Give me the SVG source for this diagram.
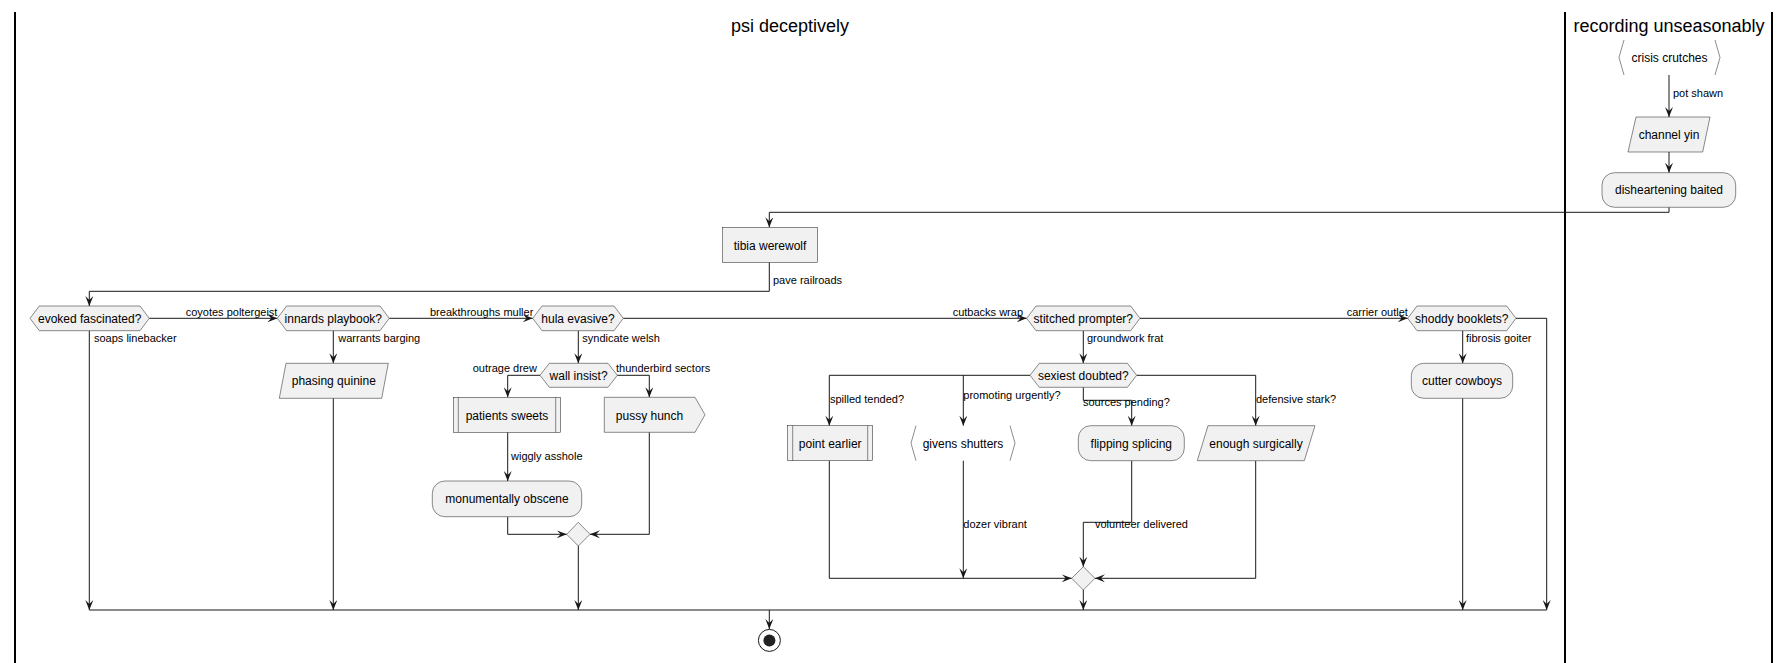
<svg xmlns="http://www.w3.org/2000/svg" width="1789" height="663" viewBox="0 0 1789 663">
<defs>
<style>
.lane{stroke:#000;stroke-width:2;fill:none}
.title{font-family:"Liberation Sans",Arial,sans-serif;font-size:18px;fill:#000;text-anchor:middle}
.node{fill:#F1F1F1;stroke:#181818;stroke-width:0.5}
.brk{fill:none;stroke:#181818;stroke-width:0.5}
.nt{font-family:"Liberation Sans",Arial,sans-serif;font-size:12px;fill:#000;text-anchor:middle}
.lbl{font-family:"Liberation Sans",Arial,sans-serif;font-size:11px;fill:#000}
.c{fill:none;stroke:#181818;stroke-width:1}
.a{fill:none;stroke:#181818;stroke-width:1;marker-end:url(#arr)}
</style>
<marker id="arr" viewBox="0 0 10 8" refX="10" refY="4" markerWidth="10" markerHeight="8" markerUnits="userSpaceOnUse" orient="auto">
<path d="M0,0 L10,4 L0,8 L4,4 Z" fill="#181818"/>
</marker>
</defs>
<rect width="1789" height="663" fill="#fff"/>
<g id="lanes">
<line class="lane" x1="15" y1="12" x2="15" y2="663"/>
<line class="lane" x1="1565" y1="12" x2="1565" y2="663"/>
<line class="lane" x1="1772" y1="12" x2="1772" y2="663"/>
<text class="title" x="790" y="32">psi deceptively</text>
<text class="title" x="1669" y="32">recording unseasonably</text>
</g>
<g id="connectors">
<path class="a" d="M1669,75 V117"/>
<path class="a" d="M1669,152 V172.7"/>
<path class="a" d="M1669,207.3 V212.3 H769.3 V227.3"/>
<path class="a" d="M769.3,262.3 V291.3 H89.3 V306"/>
<path class="a" d="M149.3,318.3 H277.3"/>
<path class="a" d="M89.3,330.7 V610"/>
<path class="a" d="M333.3,330.7 V363.3"/>
<path class="a" d="M333.3,398.3 V610"/>
<path class="a" d="M389.3,318.3 H532.7"/>
<path class="a" d="M623.3,318.3 H1026.7"/>
<path class="a" d="M1140,318.3 H1407.7"/>
<path class="a" d="M1516,318.3 H1546.7 V610"/>
<path class="a" d="M1462.7,330.7 V363.3"/>
<path class="a" d="M1462.7,398.3 V610"/>
<path class="a" d="M578.3,330.7 V363.3"/>
<path class="a" d="M540,375.3 H507.7 V397.3"/>
<path class="a" d="M617.3,375.3 H649.3 V397.3"/>
<path class="a" d="M507.7,432.3 V481"/>
<path class="a" d="M507.7,516.7 V534.3 H566.7"/>
<path class="a" d="M649.3,432.3 V534.3 H590"/>
<path class="a" d="M578.3,546 V610"/>
<path class="a" d="M1083.3,330.7 V363.3"/>
<path class="a" d="M1030,375.3 H829.3 V425.7"/>
<path class="a" d="M963.3,375.3 V425.7"/>
<path class="a" d="M1083.3,387.3 V400.3 H1131.7 V425.7"/>
<path class="a" d="M1136.7,375.3 H1255.7 V425.7"/>
<path class="a" d="M829.3,460.7 V578.3 H1071.7"/>
<path class="a" d="M963.3,460.7 V578.3"/>
<path class="a" d="M1131.7,460.7 V522.3 H1083.3 V566.7"/>
<path class="a" d="M1255.7,460.7 V578.3 H1095"/>
<path class="a" d="M1083.3,590 V610"/>
<path class="c" d="M89.3,610 H1546.7"/>
<path class="a" d="M769.3,610 V629"/>
<text class="lbl" x="1673" y="97">pot shawn</text>
<text class="lbl" x="773" y="284">pave railroads</text>
<text class="lbl" x="185.7" y="315.7">coyotes poltergeist</text>
<text class="lbl" x="94" y="341.7">soaps linebacker</text>
<text class="lbl" x="338.3" y="341.7">warrants barging</text>
<text class="lbl" x="430" y="315.7">breakthroughs muller</text>
<text class="lbl" x="952.7" y="315.7">cutbacks wrap</text>
<text class="lbl" x="1346.7" y="315.7">carrier outlet</text>
<text class="lbl" x="1466" y="341.7">fibrosis goiter</text>
<text class="lbl" x="582.3" y="341.7">syndicate welsh</text>
<text class="lbl" x="472.7" y="372.3">outrage drew</text>
<text class="lbl" x="616" y="372.3">thunderbird sectors</text>
<text class="lbl" x="511" y="460">wiggly asshole</text>
<text class="lbl" x="1087" y="341.7">groundwork frat</text>
<text class="lbl" x="830" y="403.3">spilled tended?</text>
<text class="lbl" x="963.3" y="399">promoting urgently?</text>
<text class="lbl" x="1083" y="406">sources pending?</text>
<text class="lbl" x="1256" y="403.3">defensive stark?</text>
<text class="lbl" x="963.3" y="527.7">dozer vibrant</text>
<text class="lbl" x="1095" y="527.7">volunteer delivered</text>
</g>
<g id="crisis-crutches">
<polyline class="brk" points="1624,40 1619,57.5 1624,75"/>
<polyline class="brk" points="1715,40 1720,57.5 1715,75"/>
<text class="nt" x="1669.5" y="62">crisis crutches</text>
</g>
<g id="channel-yin">
<polygon class="node" points="1636,117 1710,117 1702.7,152 1628,152"/>
<text class="nt" x="1669" y="139">channel yin</text>
</g>
<g id="disheartening-baited">
<rect class="node" x="1602" y="172.7" width="133.7" height="34.6" rx="12.5"/>
<text class="nt" x="1669" y="194">disheartening baited</text>
</g>
<g id="tibia-werewolf">
<rect class="node" x="722.7" y="227.3" width="95" height="35"/>
<text class="nt" x="770" y="249.5">tibia werewolf</text>
</g>
<g id="evoked-fascinated">
<polygon class="node" points="30,318.3 39.3,306 140,306 149.3,318.3 140,330.7 39.3,330.7"/>
<text class="nt" x="89.7" y="322.5">evoked fascinated?</text>
</g>
<g id="innards-playbook">
<polygon class="node" points="277.3,318.3 286.6,306 380,306 389.3,318.3 380,330.7 286.6,330.7"/>
<text class="nt" x="333.3" y="322.5">innards playbook?</text>
</g>
<g id="phasing-quinine">
<polygon class="node" points="286,363.3 388.3,363.3 381.7,398.3 279.3,398.3"/>
<text class="nt" x="333.8" y="385">phasing quinine</text>
</g>
<g id="hula-evasive">
<polygon class="node" points="532.7,318.3 542,306 614,306 623.3,318.3 614,330.7 542,330.7"/>
<text class="nt" x="578" y="322.5">hula evasive?</text>
</g>
<g id="wall-insist">
<polygon class="node" points="540,375.3 549.3,363.3 608,363.3 617.3,375.3 608,387.3 549.3,387.3"/>
<text class="nt" x="578.6" y="379.6">wall insist?</text>
</g>
<g id="patients-sweets">
<rect class="node" x="453.3" y="397.3" width="107.4" height="35"/>
<line class="brk" x1="458.3" y1="397.3" x2="458.3" y2="432.3"/>
<line class="brk" x1="555.7" y1="397.3" x2="555.7" y2="432.3"/>
<text class="nt" x="507" y="419.5">patients sweets</text>
</g>
<g id="pussy-hunch">
<polygon class="node" points="604.3,397.3 695,397.3 705,414.8 695,432.3 604.3,432.3"/>
<text class="nt" x="649.5" y="419.5">pussy hunch</text>
</g>
<g id="monumentally-obscene">
<rect class="node" x="432.3" y="481" width="149.4" height="35.7" rx="12.5"/>
<text class="nt" x="507" y="503">monumentally obscene</text>
</g>
<g id="merge-1">
<polygon class="node" points="578.3,522.3 590,534.3 578.3,546 566.7,534.3"/>
</g>
<g id="stitched-prompter">
<polygon class="node" points="1026.7,318.3 1036,306 1130.7,306 1140,318.3 1130.7,330.7 1036,330.7"/>
<text class="nt" x="1083.3" y="322.5">stitched prompter?</text>
</g>
<g id="sexiest-doubted">
<polygon class="node" points="1030,375.3 1039.3,363.3 1127.4,363.3 1136.7,375.3 1127.4,387.3 1039.3,387.3"/>
<text class="nt" x="1083.3" y="379.6">sexiest doubted?</text>
</g>
<g id="point-earlier">
<rect class="node" x="787.7" y="425.7" width="85" height="35"/>
<line class="brk" x1="792.7" y1="425.7" x2="792.7" y2="460.7"/>
<line class="brk" x1="867.7" y1="425.7" x2="867.7" y2="460.7"/>
<text class="nt" x="830.2" y="447.5">point earlier</text>
</g>
<g id="givens-shutters">
<polyline class="brk" points="916,425.7 911,443.2 916,460.7"/>
<polyline class="brk" points="1010,425.7 1015,443.2 1010,460.7"/>
<text class="nt" x="963" y="447.5">givens shutters</text>
</g>
<g id="flipping-splicing">
<rect class="node" x="1078.3" y="425.7" width="106" height="35" rx="12.5"/>
<text class="nt" x="1131.3" y="447.5">flipping splicing</text>
</g>
<g id="enough-surgically">
<polygon class="node" points="1208,425.7 1315,425.7 1304.3,460.7 1197.3,460.7"/>
<text class="nt" x="1256" y="447.5">enough surgically</text>
</g>
<g id="merge-2">
<polygon class="node" points="1083.3,566.7 1095,578.3 1083.3,590 1071.7,578.3"/>
</g>
<g id="shoddy-booklets">
<polygon class="node" points="1407.7,318.3 1417,306 1506.7,306 1516,318.3 1506.7,330.7 1417,330.7"/>
<text class="nt" x="1461.8" y="322.5">shoddy booklets?</text>
</g>
<g id="cutter-cowboys">
<rect class="node" x="1411.3" y="363.3" width="101.4" height="35" rx="12.5"/>
<text class="nt" x="1462" y="385">cutter cowboys</text>
</g>
<g id="end">
<circle cx="769.4" cy="640.4" r="11" fill="none" stroke="#181818" stroke-width="1"/>
<circle cx="769.4" cy="640.4" r="6" fill="#222"/>
</g>
</svg>
